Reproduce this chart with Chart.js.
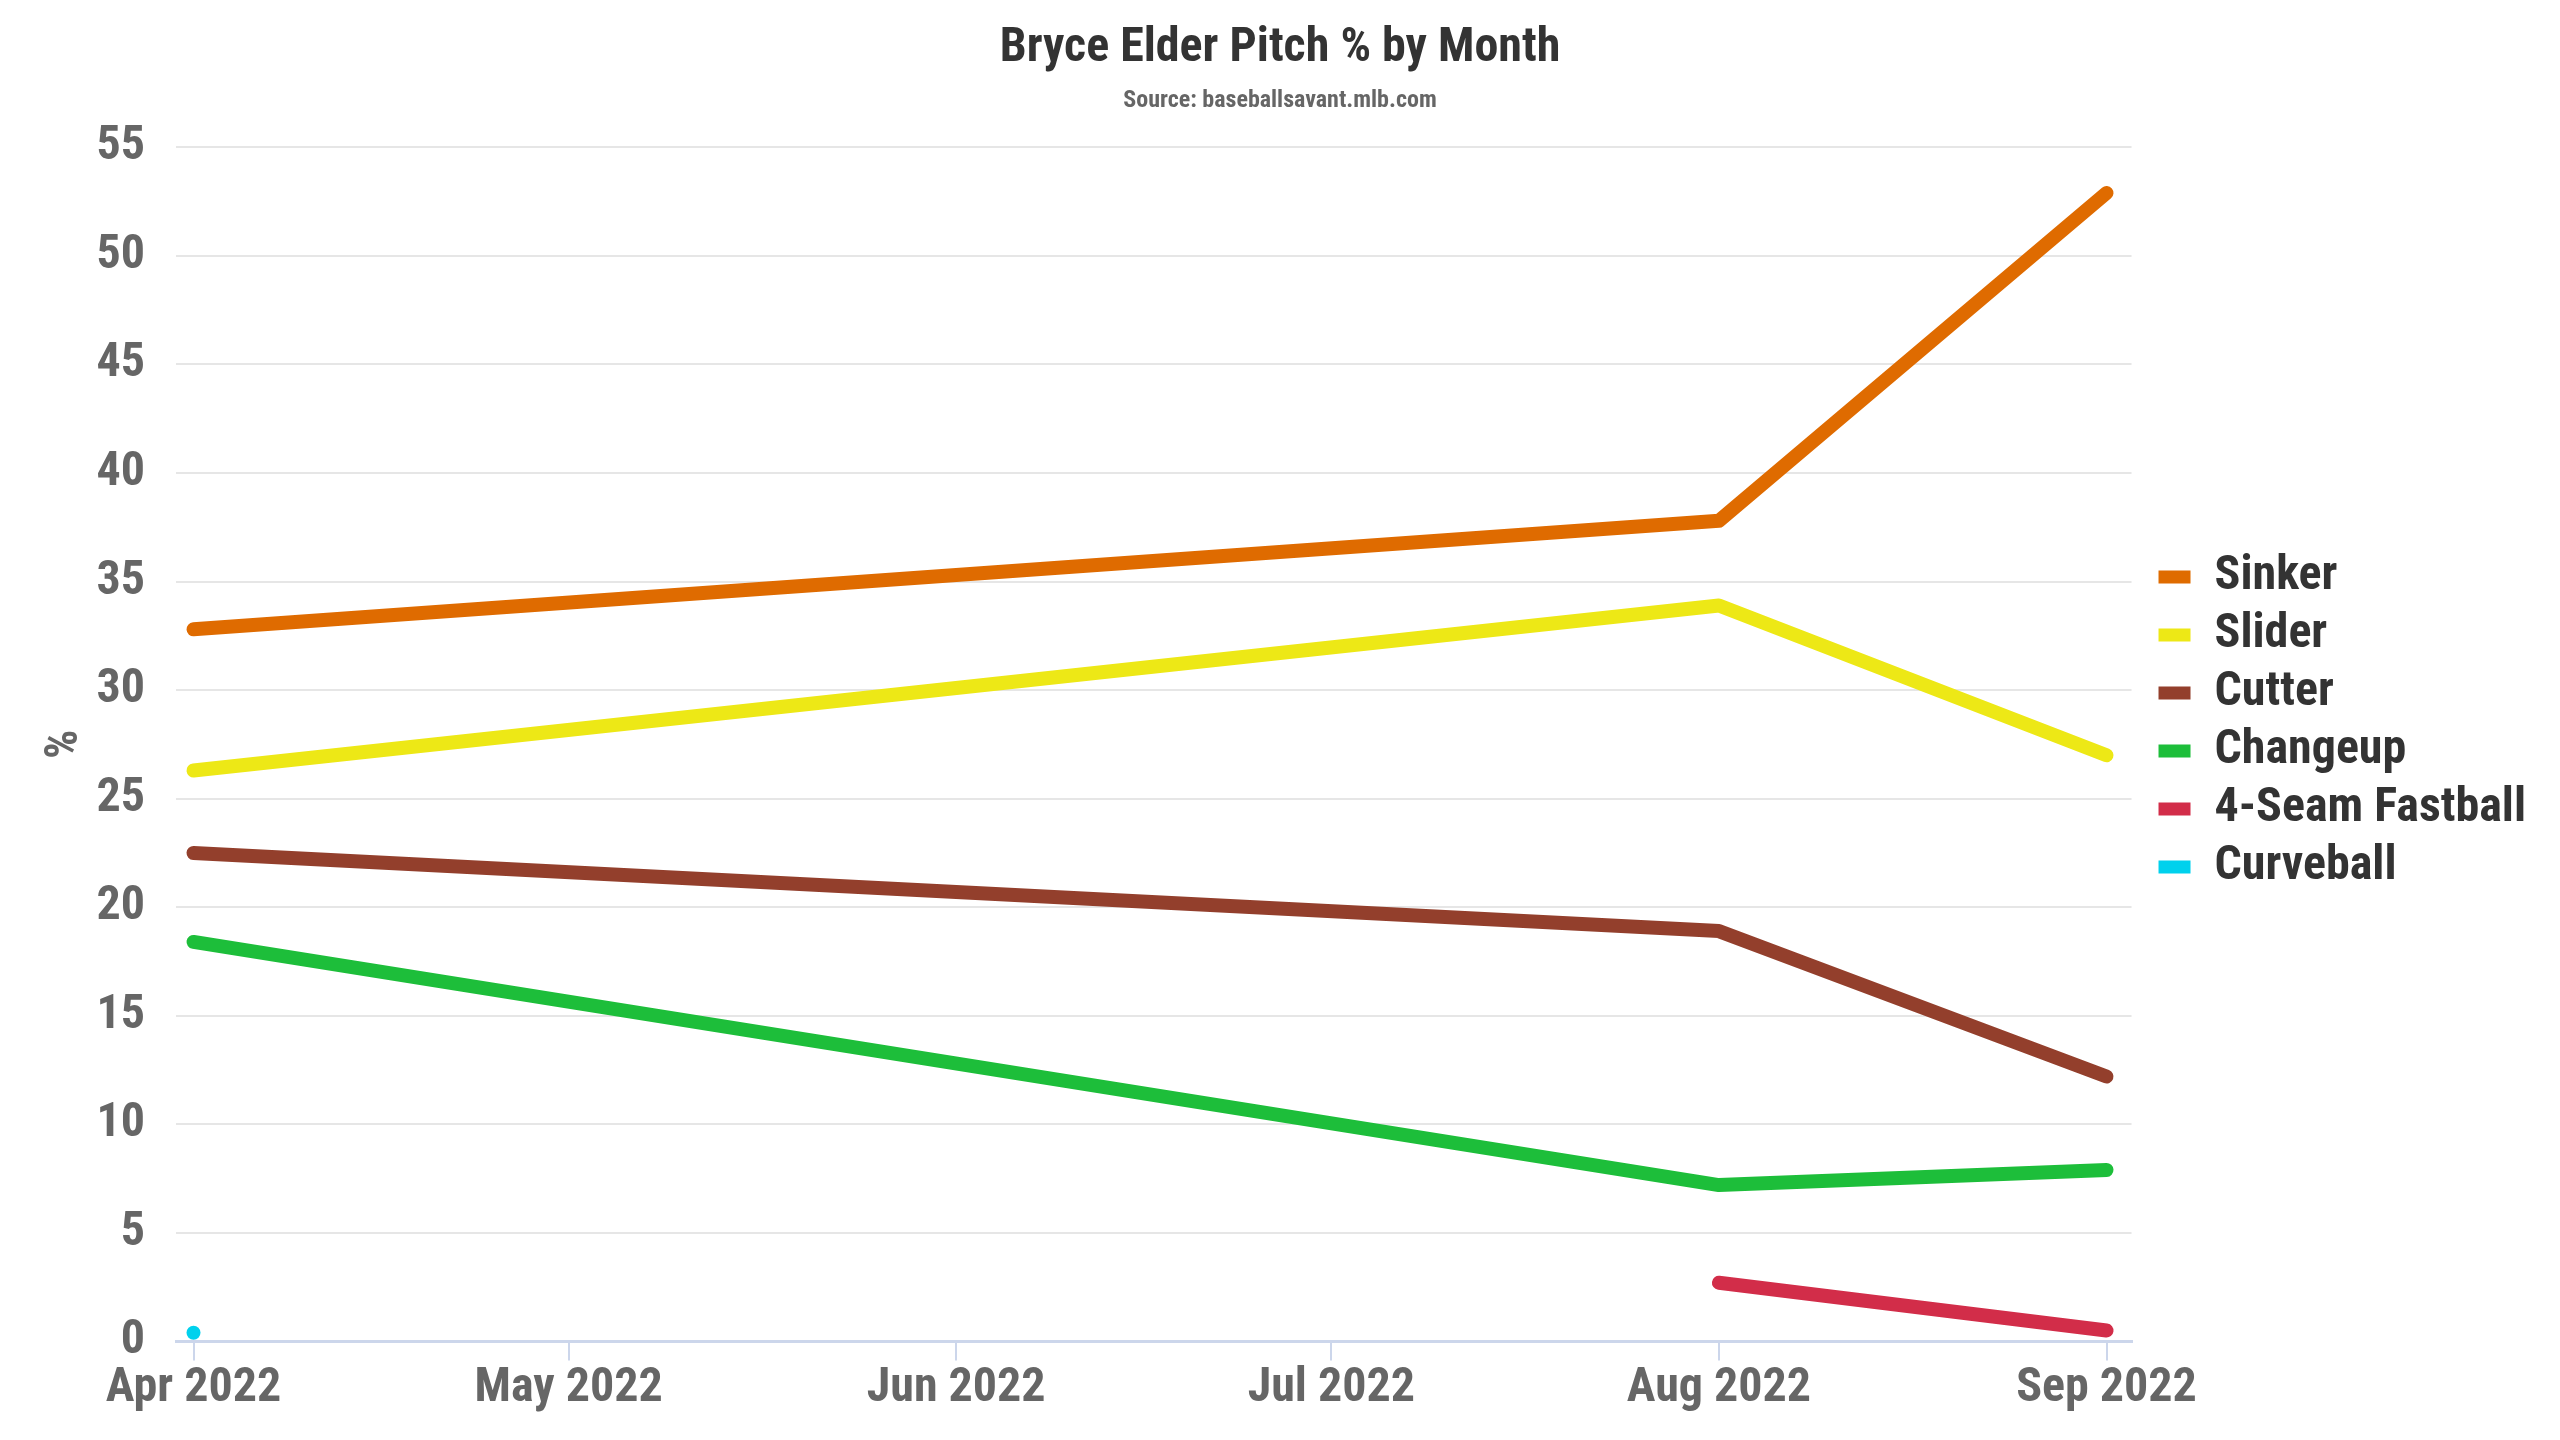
<!DOCTYPE html>
<html><head><meta charset="utf-8">
<script src="https://cdn.jsdelivr.net/npm/chart.js@4.4.1/dist/chart.umd.min.js"></script>
<style>html,body{margin:0;padding:0;background:#fff;overflow:hidden}</style>
</head><body>
<canvas id="c" width="2560" height="1440"></canvas>
<script>
// ---- data ----
const monthDates = ['2022-04-01', '2022-08-01', '2022-09-01'];
const seriesNames = ['Sinker', 'Slider', 'Cutter', 'Changeup', '4-Seam Fastball', 'Curveball'];
const sinker    = [32.8, 37.8, 52.9];
const slider    = [26.3, 33.9, 27.0];
const cutter    = [22.5, 18.9, 12.2];
const changeup  = [18.4, 7.2, 7.9];
const fourSeam  = [null, 2.7, 0.5];
const curveball = [0.4, null, null];
const tickDates  = ['2022-04-01', '2022-05-01', '2022-06-01', '2022-07-01', '2022-08-01', '2022-09-01'];
const tickLabels = ['Apr 2022', 'May 2022', 'Jun 2022', 'Jul 2022', 'Aug 2022', 'Sep 2022'];
const yTicks = [0, 5, 10, 15, 20, 25, 30, 35, 40, 45, 50, 55];
const colors = ['#DF6B00', '#EDE816', '#933F2C', '#1DBE3A', '#D22D49', '#00D1ED'];

const FONT = "'Roboto Condensed', 'Liberation Sans Narrow', 'DejaVu Sans Condensed', Roboto, sans-serif";
const base = Date.UTC(2022, 3, 1);
function dayOf(s) { const p = s.split('-').map(Number); return (Date.UTC(p[0], p[1] - 1, p[2]) - base) / 86400000; }
const xs = monthDates.map(dayOf);
const tickXs = tickDates.map(dayOf);

function pts(vals) {
  const out = [];
  vals.forEach((v, i) => { if (v !== null) out.push({ x: xs[i], y: v }); });
  return out;
}
const allSeries = [sinker, slider, cutter, changeup, fourSeam, curveball];
const datasets = allSeries.map((vals, i) => ({
  label: seriesNames[i],
  data: pts(vals),
  borderColor: colors[i],
  backgroundColor: colors[i],
  borderWidth: 14,
  borderCapStyle: 'round',
  borderJoinStyle: 'round',
  pointRadius: vals.filter(v => v !== null).length === 1 ? 5 : 0,
  pointBorderWidth: 0,
  pointHoverRadius: 0,
  tension: 0,
  fill: false
}));

// nudge the legend block to sit like the original
const legendShift = {
  id: 'legendShift',
  afterLayout(chart) {
    const l = chart.legend;
    if (l) { l.left += 17; l.right += 17; l.top += 13; l.bottom += 13; }
  }
};

new Chart(document.getElementById('c'), {
  type: 'line',
  data: { datasets },
  plugins: [legendShift],
  options: {
    responsive: false,
    devicePixelRatio: 1,
    animation: false,
    layout: { padding: { left: 41, right: 41, top: 0, bottom: 22 } },
    plugins: {
      title: {
        display: true, text: 'Bryce Elder Pitch % by Month',
        color: '#333333', font: { family: FONT, size: 48, weight: 'bold' },
        padding: { top: 20, bottom: 3 }
      },
      subtitle: {
        display: true, text: 'Source: baseballsavant.mlb.com',
        color: '#666666', font: { family: FONT, size: 24, weight: 'bold' },
        padding: { top: 6, bottom: 32 }
      },
      legend: {
        position: 'right', align: 'center',
        labels: {
          color: '#333333', font: { family: FONT, size: 48, weight: 'bold' },
          boxWidth: 32, boxHeight: 13, padding: 10,
          generateLabels(chart) {
            return chart.data.datasets.map((d, i) => ({
              text: d.label, fillStyle: d.borderColor, strokeStyle: d.borderColor,
              lineWidth: 0, hidden: false, datasetIndex: i, fontColor: '#333333'
            }));
          }
        }
      },
      tooltip: { enabled: false }
    },
    scales: {
      x: {
        type: 'linear', min: -1.4, max: 155,
        afterBuildTicks(s) { s.ticks = tickXs.map(v => ({ value: v })); },
        ticks: {
          autoSkip: false, maxRotation: 0, padding: 0,
          color: '#666666', font: { family: FONT, size: 48, weight: 'bold' },
          callback(v) { const i = tickXs.indexOf(v); return i >= 0 ? tickLabels[i] : ''; }
        },
        grid: { drawOnChartArea: false, color: '#ccd6eb', lineWidth: 2, tickLength: 19 },
        border: { color: '#ccd6eb', width: 3 }
      },
      y: {
        min: 0, max: 55,
        afterBuildTicks(s) { s.ticks = yTicks.map(v => ({ value: v })); },
        afterFit(s) { s.width = 135; },
        ticks: {
          padding: 31, color: '#666666',
          font: { family: FONT, size: 48, weight: 'bold' }
        },
        grid: { color: '#e6e6e6', lineWidth: 2, drawTicks: false },
        border: { display: false },
        title: {
          display: true, text: '%', color: '#666666',
          font: { family: FONT, size: 46, weight: 'bold' },
          padding: { top: -3, bottom: 0 }
        }
      }
    }
  }
});
</script>
</body></html>
